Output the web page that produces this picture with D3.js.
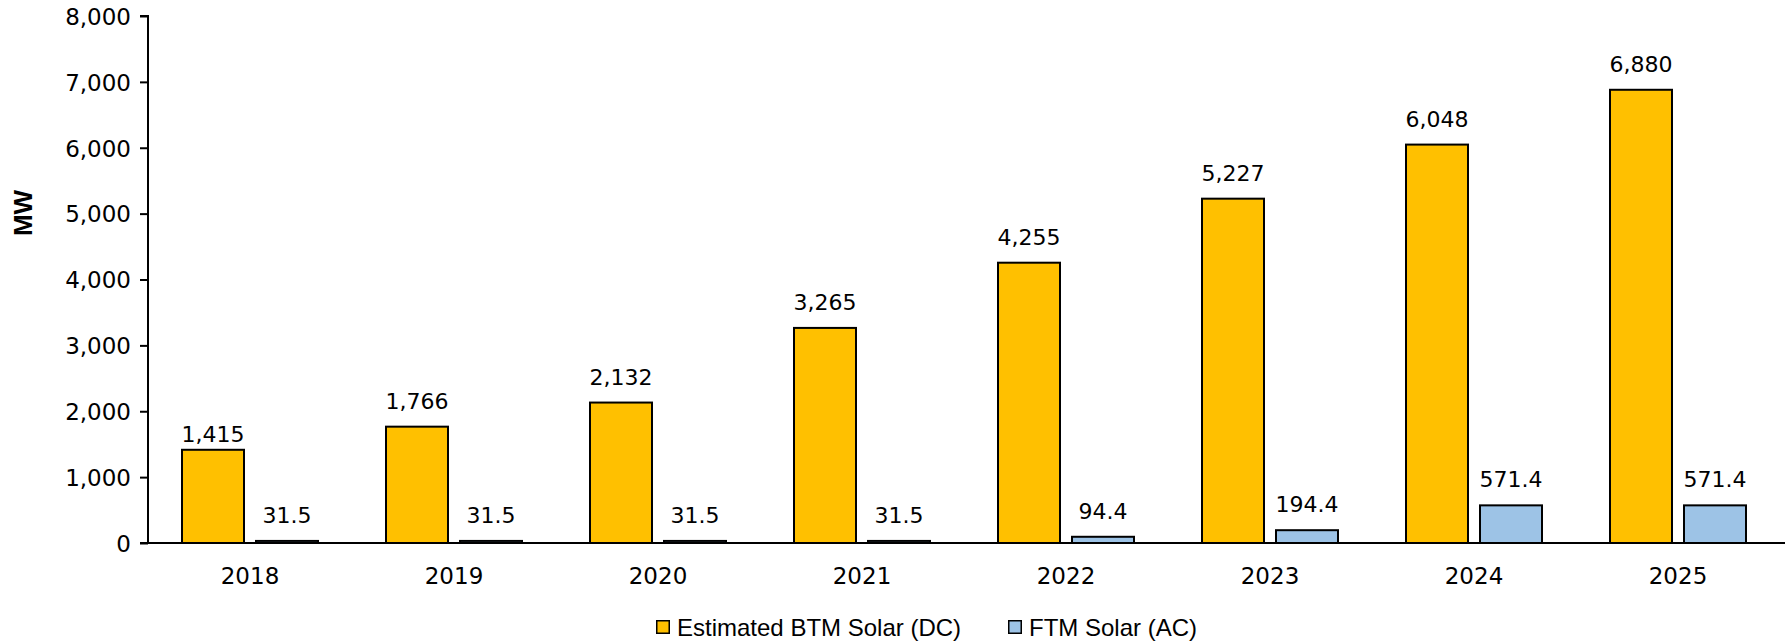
<!DOCTYPE html>
<html><head><meta charset="utf-8">
<script src="https://cdn.jsdelivr.net/npm/d3@7"></script>
<style>body{margin:0;background:#fff}svg{display:block}</style>
</head><body>
<svg id="c" width="1785" height="643"></svg>
<script>
const years = ["2018","2019","2020","2021","2022","2023","2024","2025"];
const btm = [1415,1766,2132,3265,4255,5227,6048,6880];
const ftm = [31.5,31.5,31.5,31.5,94.4,194.4,571.4,571.4];
const seriesNames = ["Estimated BTM Solar (DC)","FTM Solar (AC)"];
const seriesColors = ["#FFC000","#9DC3E6"];
const yTicks = [0,1000,2000,3000,4000,5000,6000,7000,8000];

(function(){
const svg = d3.select("#c");
const mLeft = 148, mRight = 1780, mTop = 16, mBottom = 543;
const FONT = "DejaVu Sans";

const x = d3.scaleBand().domain(years).range([mLeft, mRight]).paddingInner(0).paddingOuter(0);
const y = d3.scaleLinear().domain([0,8000]).range([mBottom, mTop]);

// y axis
const yAxis = d3.axisLeft(y).tickValues(yTicks).tickSize(8).tickFormat(d3.format(","));
const gy = svg.append("g").attr("transform", `translate(${mLeft},0)`).call(yAxis);
gy.select(".domain").attr("stroke","#000").attr("stroke-width",2).attr("d", `M-8,${mTop}H0V${mBottom}`);
gy.selectAll(".tick line").attr("stroke","#000").attr("stroke-width",2);
gy.selectAll(".tick text").attr("font-family",FONT).attr("font-size",23).attr("fill","#000").attr("x",-17).attr("dy","0.36em");

// x axis
const xAxis = d3.axisBottom(x).tickSize(0);
const gx = svg.append("g").attr("transform", `translate(0,${mBottom})`).call(xAxis);
gx.select(".domain").attr("stroke","#000").attr("stroke-width",2).attr("d", `M${mLeft-8},0H1785`);
gx.selectAll(".tick text").attr("font-family",FONT).attr("font-size",23).attr("fill","#000").attr("y",41).attr("dy",0);

// bars
const data = years.map((yr,i)=>({yr, vals:[btm[i], ftm[i]]}));
const groups = svg.append("g").selectAll("g").data(data).join("g")
  .attr("transform", d=>`translate(${x(d.yr)},0)`);
const bw = 62;
const offs = [34, 34+62+12];
groups.selectAll("rect").data(d=>d.vals.map((v,k)=>({v,k}))).join("rect")
  .attr("x", d=>offs[d.k]).attr("width", bw)
  .attr("y", d=>y(d.v)).attr("height", d=>mBottom - y(d.v))
  .attr("fill", d=>seriesColors[d.k]).attr("stroke","#000").attr("stroke-width",2);

// labels
groups.each(function(d, i){
  const g = d3.select(this);
  d.vals.forEach((v,k)=>{
    const gap = (i===0 && k===0) ? 8 : 18;
    g.append("text").attr("x", offs[k]+bw/2).attr("y", y(v)-gap)
      .attr("text-anchor","middle").attr("font-family",FONT).attr("font-size",22).attr("fill","#000")
      .text(k===0 ? d3.format(",")(v) : d3.format(".1f")(v));
  });
});

// y title
svg.append("text").attr("transform","translate(32,213) rotate(-90)").attr("text-anchor","middle")
  .attr("font-family","Liberation Sans").attr("font-weight","bold").attr("font-size",26).attr("fill","#000").text("MW");

// legend
const legX = [656, 1008];
const lg = svg.append("g").selectAll("g").data(seriesNames).join("g")
  .attr("transform",(d,i)=>`translate(${legX[i]},627)`);
lg.append("rect").attr("x",0.75).attr("y",-6.25).attr("width",12.5).attr("height",12.5)
  .attr("fill",(d,i)=>seriesColors[i]).attr("stroke","#000").attr("stroke-width",1.5);
lg.append("text").attr("x",21).attr("y",0).attr("dy","0.36em")
  .attr("font-family","Liberation Sans").attr("font-size",24).attr("fill","#000").text(d=>d);
})();
</script>
</body></html>
